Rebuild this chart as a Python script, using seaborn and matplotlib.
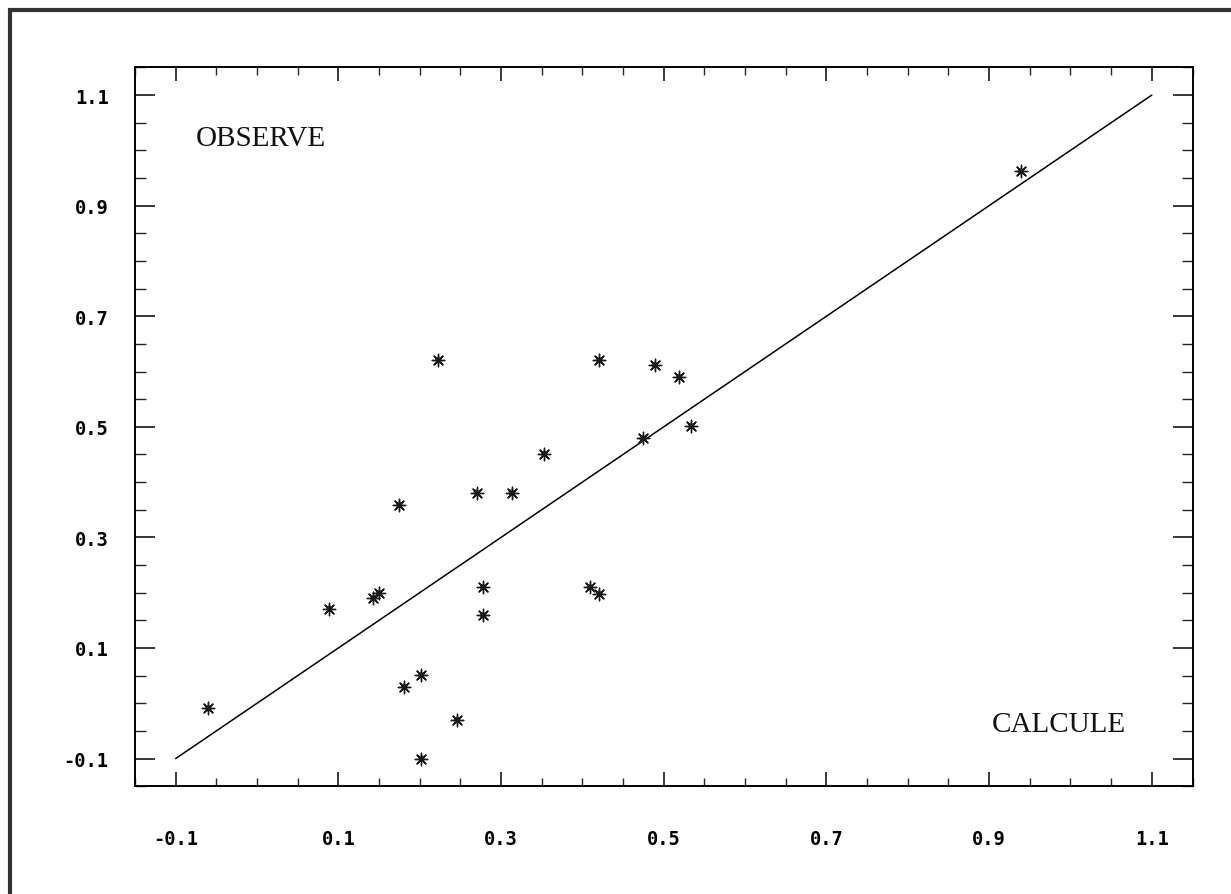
import matplotlib
matplotlib.use("Agg")
import matplotlib.pyplot as plt
from matplotlib.patches import Rectangle
from matplotlib.ticker import MultipleLocator
import numpy as np
import pandas as pd
import seaborn as sns

# Calculated vs. observed values
calcule = [-0.060, 0.089, 0.143, 0.150, 0.175, 0.223, 0.181, 0.202, 0.202,
           0.246, 0.270, 0.278, 0.278, 0.313, 0.353, 0.409, 0.421, 0.421,
           0.474, 0.489, 0.519, 0.534, 0.939]
observe = [-0.009, 0.171, 0.190, 0.199, 0.359, 0.621, 0.030, 0.051, -0.100,
           -0.030, 0.381, 0.210, 0.159, 0.381, 0.451, 0.210, 0.198, 0.621,
           0.479, 0.612, 0.590, 0.501, 0.962]

# Identity line y = x
diag_x = [-0.1, 1.1]
diag_y = [-0.1, 1.1]

tick_values = [-0.1, 0.1, 0.3, 0.5, 0.7, 0.9, 1.1]
tick_labels = ["-0.1", "0.1", "0.3", "0.5", "0.7", "0.9", "1.1"]

sns.set_theme(style="white")
plt.rcParams["font.family"] = ["DejaVu Sans Mono", "DejaVu Sans"]

fig = plt.figure(figsize=(12.31, 8.95), dpi=100)
ax = fig.add_axes([135 / 1231, 1 - 787.2 / 895, (1192.5 - 135) / 1231, (787.2 - 68.4) / 895])

df = pd.DataFrame({"calcule": calcule, "observe": observe})
line_df = pd.DataFrame({"x": diag_x, "y": diag_y})

sns.lineplot(data=line_df, x="x", y="y", ax=ax, color="black", linewidth=1.1,
             sort=False, estimator=None)
sns.scatterplot(data=df, x="calcule", y="observe", ax=ax, marker="o", s=22,
                color="#5a5a5a", edgecolor="none", zorder=3)
sns.scatterplot(data=df, x="calcule", y="observe", ax=ax, marker=(8, 2, 0), s=80,
                color="#1a1a1a", linewidth=1.0, zorder=4)

ax.set_xlim(-0.15, 1.15)
ax.set_ylim(-0.15, 1.15)
ax.set_xticks(tick_values)
ax.set_xticklabels(tick_labels)
ax.set_yticks(tick_values)
ax.set_yticklabels(tick_labels)
ax.xaxis.set_minor_locator(MultipleLocator(0.05))
ax.yaxis.set_minor_locator(MultipleLocator(0.05))
ax.set_xlabel("")
ax.set_ylabel("")

for sp in ax.spines.values():
    sp.set_visible(True)
    sp.set_color("black")
    sp.set_linewidth(1.4)

ax.tick_params(axis="x", which="major", direction="in", length=10, width=1.1,
               top=True, bottom=True, pad=31, labelsize=13.5, colors="black")
ax.tick_params(axis="x", which="minor", direction="in", length=5.5, width=1.0,
               top=True, bottom=True)
ax.tick_params(axis="y", which="major", direction="in", length=14.5, width=1.1,
               left=True, right=True, pad=19, labelsize=13.5, colors="black")
ax.tick_params(axis="y", which="minor", direction="in", length=8, width=1.0,
               left=True, right=True)
for lab in ax.get_xticklabels() + ax.get_yticklabels():
    lab.set_fontweight("bold")

ax.text(-0.0755, 1.0105, "OBSERVE", family="Liberation Serif", fontsize=21,
        ha="left", va="baseline", color="#111111")
ax.text(0.9034, -0.05, "CALCULE", family="Liberation Serif", fontsize=21,
        ha="left", va="baseline", color="#111111")

# Page frame
fig.patches.append(Rectangle((9.5 / 1231, -0.2), 1.5, 1.2 - 10.5 / 895,
                             transform=fig.transFigure, fill=False,
                             edgecolor="#333333", linewidth=3.0))

fig.savefig("out.png", dpi=100, facecolor="white")
